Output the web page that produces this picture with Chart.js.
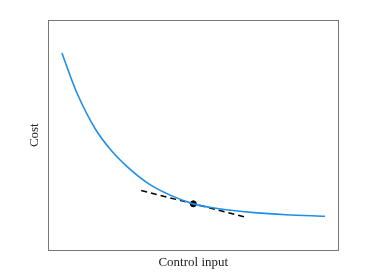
<!DOCTYPE html>
<html>
<head>
<meta charset="utf-8">
<script src="https://cdn.jsdelivr.net/npm/chart.js@4/dist/chart.umd.min.js"></script>
<style>
  html, body { margin: 0; padding: 0; background: #fff; }
  #wrap { width: 374px; height: 280px; }
</style>
</head>
<body>
<div id="wrap"><canvas id="costChart"></canvas></div>
<script>
// cost curve
var curveX = [0.46, 0.95, 1.61, 2.19, 2.76, 3.45, 4.2, 5.0, 5.6, 6.3, 7.1, 8.2, 9.55];
var curveY = [8.57, 6.92, 5.28, 4.30, 3.58, 2.90, 2.40, 2.02, 1.86, 1.74, 1.64, 1.55, 1.48];

// tangent line and the operating point
var tangentX = [3.2, 6.82];
var tangentY = [2.6, 1.44];
var pointX = [5.0];
var pointY = [2.02];

var xTitle = 'Control input';
var yTitle = 'Cost';

function toXY(xs, ys) {
  return xs.map(function (x, i) { return { x: x, y: ys[i] }; });
}

var serif = { family: '"Liberation Serif", "DejaVu Serif", serif', size: 13 };

var hiddenAxis = function (pos, extra) {
  var a = {
    type: 'linear',
    position: pos,
    min: 0,
    max: 10,
    grid: { display: false, drawTicks: false },
    ticks: { display: false },
    border: { display: true, color: '#777', width: 1 }
  };
  return Object.assign(a, extra || {});
};

var ctx = document.getElementById('costChart').getContext('2d');
new Chart(ctx, {
  type: 'scatter',
  data: {
    datasets: [
      {
        label: 'Cost',
        data: toXY(curveX, curveY),
        showLine: true,
        borderColor: '#1E8FE6',
        borderWidth: 1.6,
        pointRadius: 0,
        cubicInterpolationMode: 'monotone'
      },
      {
        label: 'Tangent',
        data: toXY(tangentX, tangentY),
        showLine: true,
        borderColor: '#000',
        borderWidth: 1.5,
        borderDash: [6, 4],
        pointRadius: 0
      },
      {
        label: 'Point',
        data: toXY(pointX, pointY),
        pointRadius: 3,
        pointBackgroundColor: '#000',
        pointBorderColor: '#000'
      }
    ]
  },
  options: {
    responsive: true,
    maintainAspectRatio: false,
    animation: false,
    layout: { padding: { left: 27, right: 36, top: 20, bottom: 10 } },
    plugins: {
      legend: { display: false },
      tooltip: { enabled: false }
    },
    scales: {
      x: hiddenAxis('bottom', {
        title: { display: true, text: xTitle, color: '#222', font: serif, padding: { top: 4, bottom: 0 } }
      }),
      y: hiddenAxis('left', {
        title: { display: true, text: yTitle, color: '#222', font: serif, padding: { top: 0, bottom: 6 } }
      }),
      x2: hiddenAxis('top'),
      y2: hiddenAxis('right')
    }
  }
});
</script>
</body>
</html>
